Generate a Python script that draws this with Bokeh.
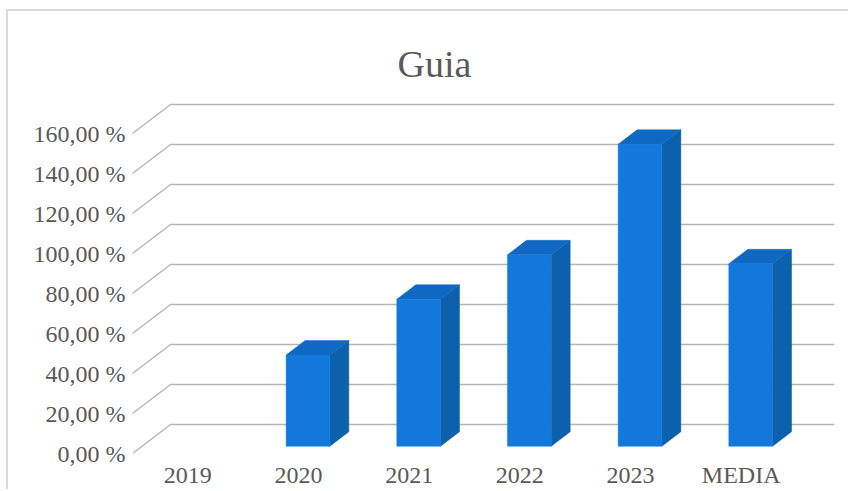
from bokeh.plotting import figure
from bokeh.embed import file_html
from bokeh.resources import INLINE
from bokeh.models import Range1d, FixedTicker

categories = ["2019", "2020", "2021", "2022", "2023", "MEDIA"]
values = [None, 45.6, 73.5, 95.7, 151.0, 91.2]
y_ticks = [0, 20, 40, 60, 80, 100, 120, 140, 160]
y_labels = ["0,00 %", "20,00 %", "40,00 %", "60,00 %", "80,00 %", "100,00 %", "120,00 %", "140,00 %", "160,00 %"]
title = "Guia"

TEXT = "#595959"
GRID = "#B5B5B5"
FRONT = "#1278DC"
TOP = "#0F69C2"
SIDE = "#0D60AC"
SERIF = "Liberation Serif"

# 3-D depth of the plot box, in axis units
DX, DY = 0.343, 14.5
BAR_W = 0.395

p = figure(width=842, height=480, output_backend="svg", toolbar_location=None,
           x_range=Range1d(0, 6.343), y_range=Range1d(0, 176.5),
           min_border_left=124, min_border_right=16, min_border_bottom=38, min_border_top=89,
           background_fill_color="white", border_fill_color="white",
           outline_line_color=None, margin=(9, -8, -8, 6))
p.styles = {"border-top": "2px solid #DADADA", "border-left": "2px solid #DADADA"}
p.grid.visible = False

p.title.text = title
p.title.align = "left"
p.title.text_font = SERIF
p.title.text_font_size = "38px"
p.title.text_font_style = "normal"
p.title.text_color = TEXT
p.title.offset = 265
p.title.standoff = 32

for v in y_ticks:
    p.line([0, DX, 6.343], [v, v + DY, v + DY], line_color=GRID, line_width=1.4)

for i, v in enumerate(values):
    if v is None:
        continue
    x0 = i + 0.5 - BAR_W / 2 + DX / 4
    x1 = x0 + BAR_W
    y0 = DY / 4
    y1 = v + DY / 4
    dx, dy = DX / 2, DY / 2
    p.patch([x1, x1 + dx, x1 + dx, x1], [y0, y0 + dy, y1 + dy, y1], fill_color=SIDE, line_color=SIDE, line_width=0.5)
    p.patch([x0, x0 + dx, x1 + dx, x1], [y1, y1 + dy, y1 + dy, y1], fill_color=TOP, line_color=TOP, line_width=0.5)
    p.patch([x0, x1, x1, x0], [y0, y0, y1, y1], fill_color=FRONT, line_color=FRONT, line_width=0.5)

for ax in (p.xaxis[0], p.yaxis[0]):
    ax.axis_line_color = None
    ax.major_tick_line_color = None
    ax.minor_tick_line_color = None
    ax.major_tick_out = 0
    ax.major_tick_in = 0
    ax.major_label_text_font = SERIF
    ax.major_label_text_color = TEXT
    ax.major_label_text_font_size = "24px"
    ax.major_label_standoff = 7

p.yaxis[0].ticker = FixedTicker(ticks=y_ticks)
p.yaxis[0].major_label_overrides = dict(zip(y_ticks, y_labels))
x_ticks = [i + 0.5 for i in range(len(categories))]
p.xaxis[0].ticker = FixedTicker(ticks=x_ticks)
p.xaxis[0].major_label_overrides = dict(zip(x_ticks, categories))
p.xaxis[0].major_label_standoff = 8

open("out.html", "w").write(file_html(p, INLINE))
